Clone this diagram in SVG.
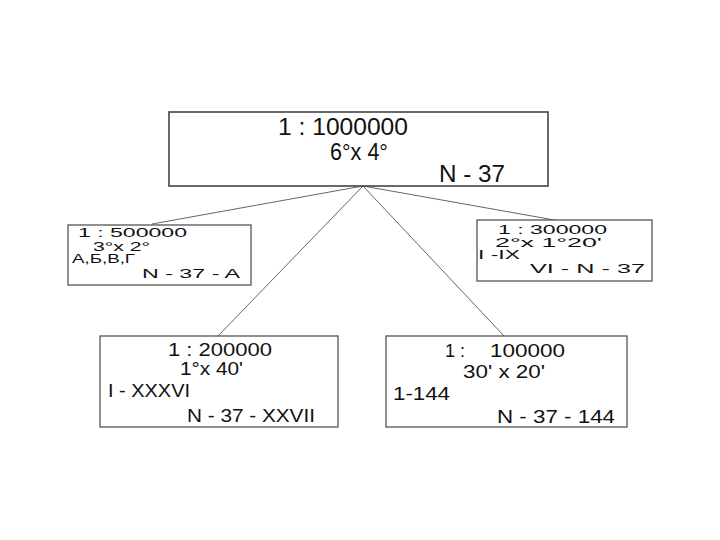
<svg xmlns="http://www.w3.org/2000/svg" width="720" height="540" viewBox="0 0 720 540">
<style>
.box{fill:#fff;stroke:#555;stroke-width:1.3}
.top{stroke:#444;stroke-width:1.6}
.t{font-family:"Liberation Sans",Arial,sans-serif;fill:#111}
.big{font-size:23.5px}
.mid{font-size:18px}
.sm{font-size:12.5px}
.ln{stroke:#666;stroke-width:1;fill:none}
</style>
<rect width="720" height="540" fill="#fff"/>
<g id="connectors">
<line class="ln" x1="363" y1="186" x2="152" y2="224"/>
<line class="ln" x1="363" y1="186" x2="560" y2="221"/>
<line class="ln" x1="363" y1="186" x2="218" y2="336"/>
<line class="ln" x1="363" y1="186" x2="505" y2="337"/>
</g>
<g id="n1m">
<rect class="box top" x="169" y="112" width="379" height="74"/>
<text class="t big" x="278" y="135" textLength="130" lengthAdjust="spacingAndGlyphs">1 : 1000000</text>
<text class="t big" x="330" y="160" textLength="58" lengthAdjust="spacingAndGlyphs">6°x 4°</text>
<text class="t big" x="439" y="182" textLength="66" lengthAdjust="spacingAndGlyphs">N - 37</text>
</g>
<g id="n500k">
<rect class="box" x="68" y="225" width="183" height="60"/>
<text class="t sm" x="78" y="237" textLength="109" lengthAdjust="spacingAndGlyphs">1 : 500000</text>
<text class="t sm" x="93" y="251" textLength="57" lengthAdjust="spacingAndGlyphs">3°x 2°</text>
<text class="t sm" x="72" y="263" textLength="63" lengthAdjust="spacingAndGlyphs">А,Б,В,Г</text>
<text class="t sm" x="142" y="278" textLength="98" lengthAdjust="spacingAndGlyphs">N - 37 - A</text>
</g>
<g id="n300k">
<rect class="box" x="477" y="220" width="175" height="61"/>
<text class="t sm" x="498" y="234" textLength="109" lengthAdjust="spacingAndGlyphs">1 : 300000</text>
<text class="t sm" x="495" y="247" textLength="107" lengthAdjust="spacingAndGlyphs">2°x 1°20'</text>
<text class="t sm" x="478" y="259" textLength="42" lengthAdjust="spacingAndGlyphs">I -IX</text>
<text class="t sm" x="530" y="273" textLength="115" lengthAdjust="spacingAndGlyphs">VI - N - 37</text>
</g>
<g id="n200k">
<rect class="box" x="100" y="336" width="238" height="91"/>
<text class="t mid" x="168" y="356" textLength="104" lengthAdjust="spacingAndGlyphs">1 : 200000</text>
<text class="t mid" x="180" y="375" textLength="63" lengthAdjust="spacingAndGlyphs">1°x 40'</text>
<text class="t mid" x="108" y="397" textLength="82" lengthAdjust="spacingAndGlyphs">I - XXXVI</text>
<text class="t mid" x="187" y="422" textLength="128" lengthAdjust="spacingAndGlyphs">N - 37 - XXVII</text>
</g>
<g id="n100k">
<rect class="box" x="386" y="336" width="241" height="91"/>
<text class="t mid" x="445" y="357">1 :</text>
<text class="t mid" x="490" y="357" textLength="75" lengthAdjust="spacingAndGlyphs">100000</text>
<text class="t mid" x="463" y="378" textLength="82" lengthAdjust="spacingAndGlyphs">30' x 20'</text>
<text class="t mid" x="393" y="400" textLength="57" lengthAdjust="spacingAndGlyphs">1-144</text>
<text class="t mid" x="497" y="423" textLength="118" lengthAdjust="spacingAndGlyphs">N - 37 - 144</text>
</g>
</svg>
